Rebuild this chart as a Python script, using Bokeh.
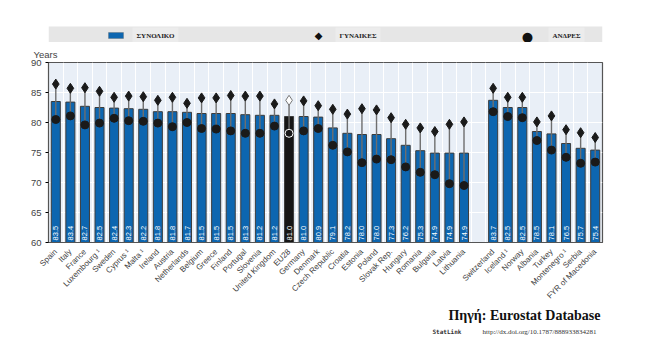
from math import pi
from bokeh.plotting import figure
from bokeh.layouts import column
from bokeh.models import (ColumnDataSource, FactorRange, FixedTicker, Label,
                          BoxAnnotation, Range1d)
from bokeh.embed import file_html
from bokeh.resources import INLINE
from bokeh.core.properties import value

# ---------------- data ----------------
eu_countries = ["Spain", "Italy", "France", "Luxembourg \u00b9", "Sweden", "Cyprus \u00b9",
                "Malta \u00b9", "Ireland", "Austria", "Netherlands", "Belgium", "Greece",
                "Finland", "Portugal", "Slovenia", "United Kingdom", "EU28", "Germany",
                "Denmark", "Czech Republic", "Croatia", "Estonia", "Poland", "Slovak Rep.",
                "Hungary", "Romania", "Bulgaria", "Latvia", "Lithuania"]
eu_total = [83.5, 83.4, 82.7, 82.5, 82.4, 82.3, 82.2, 81.8, 81.8, 81.7, 81.5, 81.5,
            81.5, 81.3, 81.2, 81.2, 81.0, 81.0, 80.9, 79.1, 78.2, 78.0, 78.0, 77.3,
            76.2, 75.3, 74.9, 74.9, 74.9]
eu_women = [86.4, 85.7, 85.8, 85.2, 84.2, 84.4, 84.3, 83.7, 84.2, 83.2, 84.1, 84.1,
            84.5, 84.4, 84.4, 83.1, 83.7, 83.6, 82.8, 82.2, 81.4, 82.3, 82.1, 80.8,
            79.7, 79.1, 78.5, 79.7, 80.1]
eu_men = [80.5, 81.1, 79.6, 79.9, 80.7, 80.3, 80.2, 79.9, 79.3, 80.0, 79.0, 78.9,
          78.6, 78.2, 78.2, 79.4, 78.2, 78.6, 79.0, 76.2, 75.1, 73.3, 73.9, 73.8,
          72.6, 71.7, 71.3, 69.8, 69.5]

other_countries = ["Switzerland", "Iceland \u00b9", "Norway", "Albania", "Turkey",
                   "Montenegro \u00b9", "Serbia", "FYR of Macedonia"]
other_total = [83.7, 82.5, 82.5, 78.5, 78.1, 76.5, 75.7, 75.4]
other_women = [85.7, 84.2, 84.2, 80.1, 81.1, 78.8, 78.3, 77.5]
other_men = [81.8, 81.0, 80.8, 77.0, 75.4, 74.2, 73.2, 73.4]

y_ticks = [60, 65, 70, 75, 80, 85, 90]
y_unit = "Years"
legend_labels = ["\u03a3\u03a5\u039d\u039f\u039b\u0399\u039a\u039f",
                 "\u0393\u03a5\u039d\u0391\u0399\u039a\u0395\u03a3",
                 "\u0391\u039d\u0394\u03a1\u0395\u03a3"]
source_text = "\u03a0\u03b7\u03b3\u03ae: Eurostat Database"
statlink_url = "http://dx.doi.org/10.1787/888933834281"
aggregate = "EU28"

# ---------------- build ----------------
spacer = " "
factors = eu_countries + [spacer] + other_countries
countries = eu_countries + other_countries
total = eu_total + other_total
women = eu_women + other_women
men = eu_men + other_men

BLUE = "#0d66b0"
is_agg = [c == aggregate for c in countries]
src = ColumnDataSource(dict(
    country=countries, total=total, women=women, men=men,
    label=[f"{v:.1f}" for v in total],
    bar_color=["#161616" if a else BLUE for a in is_agg],
    w_fill=["white" if a else "#1a1a1a" for a in is_agg],
    w_line=["#777777" if a else "#1a1a1a" for a in is_agg],
    m_fill=["#161616" if a else "#1a1a1a" for a in is_agg],
    m_line=["white" if a else "#1a1a1a" for a in is_agg],
))

SANS = "Liberation Sans"
SERIF = "Liberation Serif"
W = 655
ML, MR, MT, MB = 48, 53, 20, 64
FRAME_H = 180
TOP_H = 42                      # header strip (legend band)
MAIN_H = MT + FRAME_H + MB      # chart (incl. "Years" title and country labels)
BOT_H = 354 - TOP_H - MAIN_H    # footer strip (source)


def strip(height):
    # frame spans the same columns as the chart frame; data x == page x
    f = figure(width=W, height=height, x_range=Range1d(ML, W - MR),
               y_range=Range1d(height, 0), x_axis_type=None, y_axis_type=None,
               output_backend="svg", toolbar_location=None,
               min_border_left=ML, min_border_right=MR, min_border_top=0,
               min_border_bottom=0, outline_line_color=None,
               background_fill_color="white", border_fill_color="white")
    f.grid.visible = False
    return f


# ---- header: legend band ----
top = strip(TOP_H)
top.add_layout(BoxAnnotation(left=48, right=602, top=26, bottom=43,
                             fill_color="#e6e6e6", fill_alpha=1, line_color=None))
top.add_layout(BoxAnnotation(left=108, right=123, top=32, bottom=38,
                             fill_color=BLUE, fill_alpha=1, line_color="#555555"))
for lx, txt in zip([132, 335, 548], legend_labels):
    top.add_layout(Label(x=lx, y=35, text=txt, text_font=SERIF,
                         text_font_style="bold", text_font_size="7px",
                         text_color="#222222", text_baseline="middle",
                         background_fill_color="#ececec", padding=4))
top.add_layout(Label(x=318, y=35, text="\u25c6", text_font="DejaVu Sans",
                     text_font_size="10px", text_color="#111111",
                     text_align="center", text_baseline="middle"))
top.add_layout(Label(x=527, y=35.5, text="\u25cf", text_font="DejaVu Sans",
                     text_font_size="13px", text_color="#111111",
                     text_align="center", text_baseline="middle"))

# ---- main chart ----
p = figure(width=W, height=MAIN_H, x_range=FactorRange(factors=factors, range_padding=0),
           y_range=Range1d(y_ticks[0], y_ticks[-1]), output_backend="svg",
           toolbar_location=None, min_border_left=ML, min_border_right=MR,
           min_border_top=MT, min_border_bottom=MB,
           background_fill_color="#e9eff7", border_fill_color="white",
           outline_line_color="#555555", outline_line_width=1.2,
           title=y_unit)
p.title.align = "left"
p.title.offset = -15
p.title.standoff = 6
p.title.text_font = SANS
p.title.text_font_style = "normal"
p.title.text_font_size = "9.5px"
p.title.text_color = "#444444"

p.xgrid.ticker = FixedTicker(ticks=list(range(0, len(factors) + 1)))
p.xgrid.grid_line_color = "white"
p.ygrid.ticker = FixedTicker(ticks=y_ticks)
p.ygrid.grid_line_color = "white"

p.vbar(x="country", top="total", bottom=y_ticks[0], width=0.62, source=src,
       fill_color="bar_color", line_color="#3c3c3c", line_width=1)
p.text(x="country", y=y_ticks[0] + 0.35, text="label", source=src, angle=pi / 2,
       text_align="left", text_baseline="middle", text_color="white",
       text_font_size="7.5px", text_font=value(SANS))
p.segment(x0="country", y0="men", x1="country", y1="women", source=src,
          line_color="#6e6e6e", line_width=1.4)
p.scatter(x="country", y="women", source=src, marker="diamond", size=10,
          fill_color="w_fill", line_color="w_line", line_width=1)
p.scatter(x="country", y="men", source=src, marker="circle", size=8,
          fill_color="m_fill", line_color="m_line", line_width=1)

ax = p.xaxis[0]
ax.major_label_orientation = pi / 4
ax.major_label_text_font_size = "8px"
ax.major_label_text_font = SANS
ax.major_label_text_color = "#404040"
ax.major_tick_line_color = None
ax.axis_line_color = "#555555"
ax.major_label_standoff = 2

ay = p.yaxis[0]
ay.ticker = FixedTicker(ticks=y_ticks)
ay.major_label_text_font_size = "9.5px"
ay.major_label_text_font = SANS
ay.major_label_text_color = "#444444"
ay.axis_line_color = "#555555"
ay.major_tick_out = 3
ay.major_tick_in = 0
ay.minor_tick_line_color = None
ay.major_label_standoff = 4

# ---- footer: source ----
bot = strip(BOT_H)
bot.add_layout(Label(x=600, y=9, text=source_text, text_font=SERIF,
                     text_font_style="bold", text_font_size="14px",
                     text_color="#111111", text_align="right",
                     text_baseline="alphabetic"))
bot.add_layout(Label(x=432, y=25, text="StatLink", text_font="DejaVu Sans Mono",
                     text_font_style="bold", text_font_size="6px",
                     text_color="#333333", text_baseline="middle"))
bot.add_layout(Label(x=482, y=25, text=statlink_url, text_font=SERIF,
                     text_font_size="7px", text_color="#333333",
                     text_baseline="middle"))

layout = column(top, p, bot, spacing=0)
open("out.html", "w").write(file_html(layout, INLINE))
